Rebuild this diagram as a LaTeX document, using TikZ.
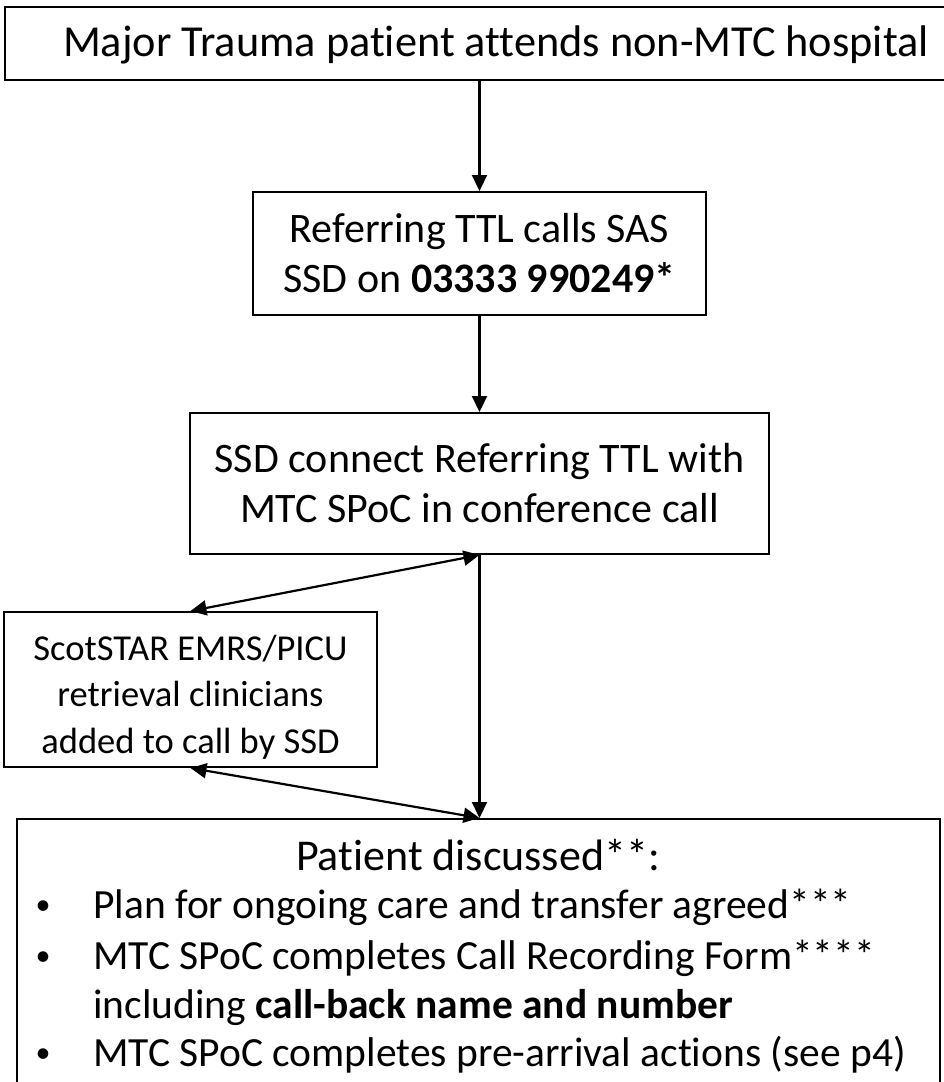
\documentclass[tikz,border=0pt]{standalone}
\usepackage{fontspec}
\setmainfont{Carlito}[Ligatures=NoCommon]
\usetikzlibrary{arrows.meta}
\begin{document}
\begin{tikzpicture}[x=1pt,y=-1pt,
  box/.style={draw, line width=2pt, inner sep=0pt, align=center},
  big/.style={font=\fontsize{42}{50}\selectfont},
  small/.style={font=\fontsize{36.5}{46.5}\selectfont},
  dot/.style={font=\fontsize{30}{30}\selectfont, anchor=base},
  line/.style={font=\fontsize{41.5}{50}\selectfont, anchor=base west, inner sep=0pt},
  tip/.tip={Triangle[length=16pt,width=15pt]},
  arr/.style={line width=2.2pt, -tip},
  darr/.style={line width=2.2pt, tip-tip},
]
\useasboundingbox (0,0) rectangle (944,1082);
\node[box, minimum width=1000pt, minimum height=73pt] (b1) at (505,43.5) {};
\node[font=\fontsize{44.3}{50}\selectfont] (t1) at (496,45) {Major Trauma patient attends non-MTC hospital};
\node[box, big, minimum width=453pt, minimum height=123pt] (b2) at (479.5,253.5) {Referring TTL calls SAS\\SSD on \textbf{03333 990249*}};
\node[box, big, minimum width=579pt, minimum height=141pt] (b3) at (479.5,483.5) {SSD connect Referring TTL with\\MTC SPoC in conference call};
\node[box, minimum width=373pt, minimum height=155pt] (b4) at (190.5,689.5) {};
\node[small, align=center] (t4) at (190.5,697) {ScotSTAR EMRS/PICU\\retrieval clinicians\\added to call by SSD};
\node[box, minimum width=923pt, minimum height=272pt] (b5) at (478.5,955) {};
\node[font=\fontsize{44}{50}\selectfont, anchor=base] (t5) at (478,870) {Patient discussed**:};
\node[dot] (d1) at (43,914) {•};
\node[line] (l1) at (93,918) {Plan for ongoing care and transfer agreed***};
\node[dot] (d2) at (43,965) {•};
\node[line] (l2) at (93,969) {MTC SPoC completes Call Recording Form****};
\node[line] (l3) at (93,1018) {including \textbf{call-back name and number}};
\node[dot] (d3) at (43,1062) {•};
\node[line] (l4) at (93,1066) {MTC SPoC completes pre-arrival actions (see p4)};
\draw[arr] (b2.north |- b1.south) -- (b2.north);
\draw[arr] (b2.south) -- (b3.north);
\draw[arr] (b3.south) -- (b3.south |- b5.north);
\draw[darr] (b4.north) -- (b3.south);
\draw[darr] (b4.south) -- (b3.south |- b5.north);
\end{tikzpicture}
\end{document}
